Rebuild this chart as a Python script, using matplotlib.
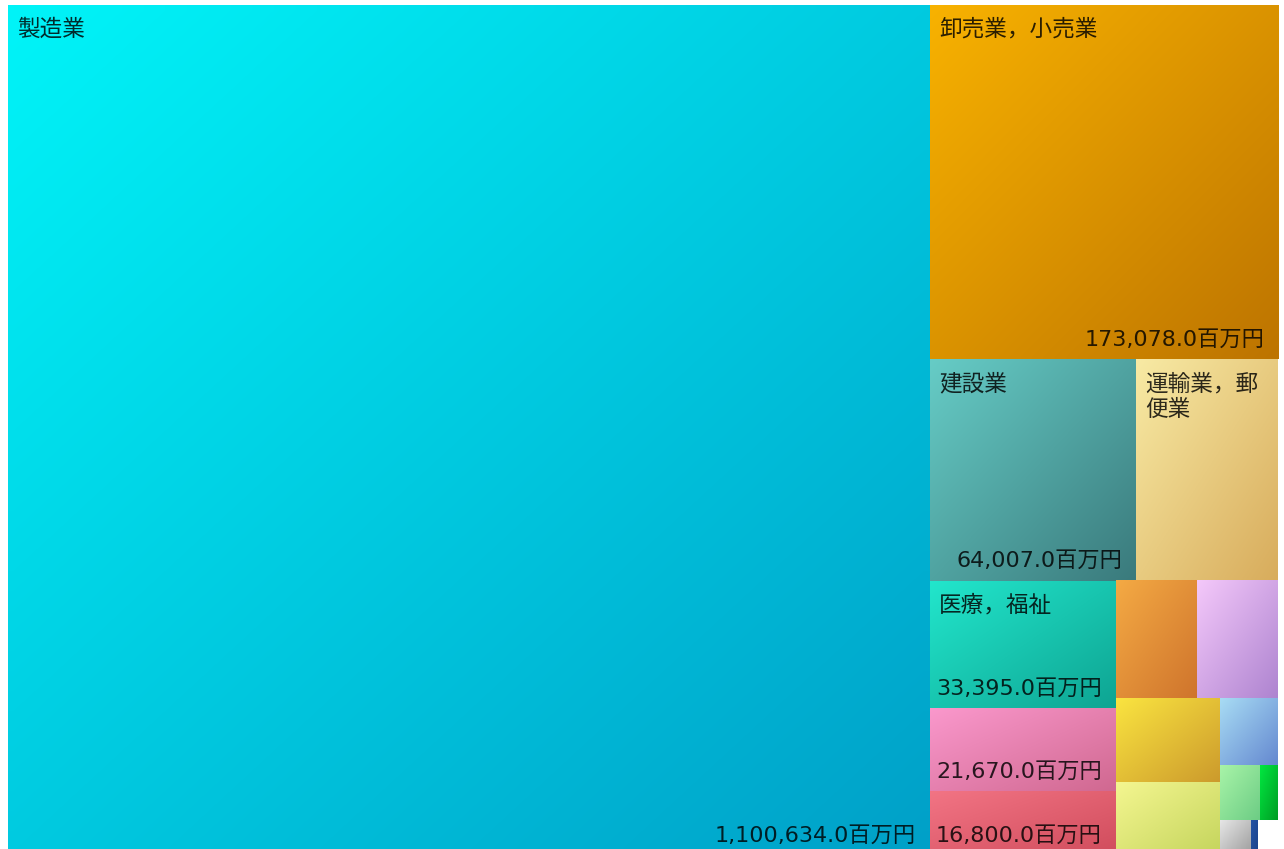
import numpy as np
import matplotlib
matplotlib.use("Agg")
import matplotlib.pyplot as plt
from matplotlib.colors import to_rgb

# ── data ──────────────────────────────────────────────────────────────────────
INDUSTRIES = [
    "製造業",
    "卸売業，小売業",
    "建設業",
    "運輸業，郵便業",
    "医療，福祉",
    "サービス業（他に分類されないもの）",
    "生活関連サービス業，娯楽業",
    "宿泊業，飲食サービス業",
    "学術研究，専門・技術サービス業",
    "不動産業，物品賃貸業",
    "情報通信業",
    "教育，学習支援業",
    "複合サービス事業",
    "農業，林業",
    "電気・ガス・熱供給・水道業",
    "金融業，保険業",
    "鉱業，採石業，砂利採取業",
]
VALUES = [
    1100634.0, 173078.0, 64007.0, 44000.0, 33395.0, 21670.0, 16800.0,
    13450.0, 13300.0, 12300.0, 10800.0, 5400.0, 3100.0, 1400.0, 1500.0,
    360.0, 1000.0,
]
UNIT = "百万円"

# (top-left, bottom-right) gradient colours per tile
TILE_COLOURS = [
    ("#00f4f8", "#00a0c8"),
    ("#f8b200", "#bd7400"),
    ("#66ccc6", "#3a7a7c"),
    ("#f8eaa4", "#d8ac5c"),
    ("#22e6cc", "#0ea492"),
    ("#fa98cc", "#d06890"),
    ("#f27484", "#d04c5c"),
    ("#f4aa44", "#cf742c"),
    ("#f4c8fa", "#ae84d0"),
    ("#fae440", "#cc9a2c"),
    ("#f4f690", "#c4d45c"),
    ("#a8dcf4", "#6488d0"),
    ("#a8f4a8", "#6ccc84"),
    ("#00e840", "#009c24"),
    ("#e6e6e6", "#9c9c9c"),
    ("#2454a4", "#1a4088"),
    ("#ffffff", "#ffffff"),
]

W_PX, H_PX = 1270, 851
PHI = (1 + 5 ** 0.5) / 2
PAD = 8
NAME_FS = 16.3
VALUE_FS = 16.0
FAMILY_NAME = ["Noto Sans CJK JP", "DejaVu Sans"]
FAMILY_VALUE = ["DejaVu Sans", "Noto Sans CJK JP"]


# ── squarified layout (golden-ratio variant) ──────────────────────────────────
def squarify(values, x0, y0, x1, y1, ratio=PHI):
    rects = []
    value = float(sum(values))
    n = len(values)
    i0 = i1 = 0
    while i0 < n:
        dx, dy = x1 - x0, y1 - y0
        sum_v = values[i1]
        i1 += 1
        min_v = max_v = sum_v
        alpha = max(dy / dx, dx / dy) / (value * ratio)
        beta = sum_v * sum_v * alpha
        min_ratio = max(max_v / beta, beta / min_v)
        while i1 < n:
            v = values[i1]
            sum_v += v
            min_v, max_v = min(min_v, v), max(max_v, v)
            beta = sum_v * sum_v * alpha
            new_ratio = max(max_v / beta, beta / min_v)
            if new_ratio > min_ratio:
                sum_v -= v
                break
            min_ratio = new_ratio
            i1 += 1
        row = values[i0:i1]
        if dx < dy:
            # row across the top
            yb = y0 + dy * sum_v / value
            cx = x0
            for v in row:
                w = dx * v / sum_v
                rects.append((cx, y0, w, yb - y0))
                cx += w
            y0 = yb
        else:
            # column down the left
            xb = x0 + dx * sum_v / value
            cy = y0
            for v in row:
                h = dy * v / sum_v
                rects.append((x0, cy, xb - x0, h))
                cy += h
            x0 = xb
        value -= sum_v
        i0 = i1
    return rects


def gradient(c0, c1, n=80):
    u = np.linspace(0, 1, n)
    t = (u[None, :] + u[:, None]) / 2.0
    a, b = np.array(to_rgb(c0)), np.array(to_rgb(c1))
    return a[None, None, :] * (1 - t[..., None]) + b[None, None, :] * t[..., None]


def text_width(ax, renderer, s, fs, family):
    t = ax.text(0, 0, s, fontsize=fs, family=family)
    w = t.get_window_extent(renderer).width
    t.remove()
    return w


def wrap_label(ax, renderer, text, max_w):
    lines, cur = [], ""
    for ch in text:
        trial = cur + ch
        if cur and text_width(ax, renderer, trial, NAME_FS, FAMILY_NAME) > max_w:
            lines.append(cur)
            cur = ch
        else:
            cur = trial
    if cur:
        lines.append(cur)
    return "\n".join(lines)


# ── figure ────────────────────────────────────────────────────────────────────
fig = plt.figure(figsize=(12.84, 8.49), dpi=100)
fig.patch.set_facecolor("white")
ax = fig.add_axes([8 / 1284, (849 - 5 - H_PX) / 849, W_PX / 1284, H_PX / 849])
ax.set_xlim(0, W_PX)
ax.set_ylim(H_PX, 0)
ax.axis("off")
renderer = fig.canvas.get_renderer()

rects = squarify(VALUES, 0, 0, W_PX, H_PX)

for name, val, (c0, c1), (x, y, w, h) in zip(INDUSTRIES, VALUES, TILE_COLOURS, rects):
    ax.imshow(gradient(c0, c1), extent=(x, x + w, y + h, y), origin="upper",
              interpolation="bilinear", aspect="auto", zorder=1)

    if h >= 100 and w >= 100:
        label = wrap_label(ax, renderer, name, w - 2 * PAD)
        ax.text(x + PAD + 1, y + PAD + 5, label, fontsize=NAME_FS, family=FAMILY_NAME,
                ha="left", va="top", color="black", alpha=0.82,
                linespacing=1.12, zorder=3)

    vtxt = f"{val:,.1f}{UNIT}"
    if h >= 50 and text_width(ax, renderer, vtxt, VALUE_FS, FAMILY_VALUE) + 2 * PAD <= w:
        ax.text(x + w - 14, y + h - 10, vtxt, fontsize=VALUE_FS, family=FAMILY_VALUE,
                ha="right", va="bottom", color="black", alpha=0.82, zorder=3)

fig.savefig("out.png", dpi=100, facecolor="white")
